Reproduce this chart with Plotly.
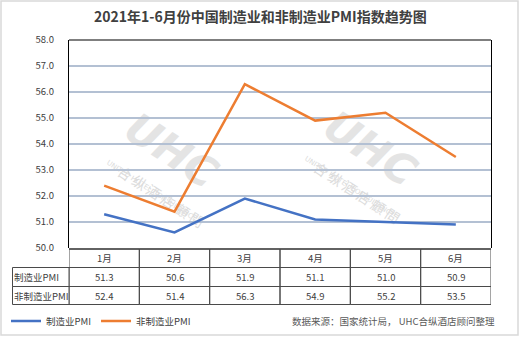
import plotly.graph_objects as go

months = ["1月", "2月", "3月", "4月", "5月", "6月"]
manu_name = "制造业PMI"
nonmanu_name = "非制造业PMI"
manu_pmi = [51.3, 50.6, 51.9, 51.1, 51.0, 50.9]
nonmanu_pmi = [52.4, 51.4, 56.3, 54.9, 55.2, 53.5]
y_ticks = [50, 51, 52, 53, 54, 55, 56, 57, 58]

title = "2021年1-6月份中国制造业和非制造业PMI指数趋势图"
source = "数据来源：国家统计局， UHC合纵酒店顾问整理"

FONT = "Noto Sans CJK SC, Microsoft YaHei, sans-serif"
TXT = "#404040"
BLUE = "#4472C4"
ORANGE = "#ED7D31"
TABLE_LINE = "#4a4a4a"

W, H = 520, 337
L, R, T, B = 69, 29, 40, 89
PW, PH = W - L - R, H - T - B


def px(xp):
    return (xp - L) / PW


def py(yp):
    return (H - B - yp) / PH


fig = go.Figure()
fig.add_trace(go.Scatter(x=months, y=manu_pmi, mode="lines", name=manu_name,
                         line=dict(color=BLUE, width=2.5)))
fig.add_trace(go.Scatter(x=months, y=nonmanu_pmi, mode="lines", name=nonmanu_name,
                         line=dict(color=ORANGE, width=2.5)))

shapes = []
annotations = []

# watermarks (under the lines)
for cx, cy, tx, ty, ex, ey in [(173, 148, 160, 198, 152, 190),
                               (372, 146, 356, 194, 350, 186)]:
    shapes.append(dict(type="rect", xref="paper", yref="paper",
                       x0=px(cx - 5), x1=px(cx + 5), y0=py(cy + 5), y1=py(cy - 5),
                       line=dict(width=0), fillcolor="rgba(0,0,0,0)", layer="between",
                       label=dict(text="<b><i>UHC</i></b>", textangle=33,
                                  font=dict(family="DejaVu Sans", size=42, color="#e4e4e4"),
                                  textposition="middle center")))
    shapes.append(dict(type="rect", xref="paper", yref="paper",
                       x0=px(tx - 5), x1=px(tx + 5), y0=py(ty + 5), y1=py(ty - 5),
                       line=dict(width=0), fillcolor="rgba(0,0,0,0)", layer="between",
                       label=dict(text="合 纵 酒 店 顧 問", textangle=33,
                                  font=dict(family=FONT, size=14, color="#dcdcdc"),
                                  textposition="middle center")))
    shapes.append(dict(type="rect", xref="paper", yref="paper",
                       x0=px(ex - 5), x1=px(ex + 5), y0=py(ey + 5), y1=py(ey - 5),
                       line=dict(width=0), fillcolor="rgba(0,0,0,0)", layer="between",
                       label=dict(text="UNITED HOTEL CONSULTANCY", textangle=33,
                                  font=dict(family="DejaVu Sans", size=7, color="#dcdcdc"),
                                  textposition="middle center")))

# plot frame top (black)
shapes.append(dict(type="line", xref="paper", yref="paper", x0=0, x1=1, y0=1, y1=1,
                   line=dict(color="black", width=1.2)))

# table: header row top line (plot bottom)
shapes.append(dict(type="line", xref="x", yref="paper", x0=-0.5, x1=len(months) - 0.5,
                   y0=py(249), y1=py(249), line=dict(color="#7a7a7a", width=2)))
# table rows as rectangles (cells)
row_edges = [py(249), py(267.5), py(286.5), py(304.5)]
for r in range(3):
    for i in range(len(months)):
        shapes.append(dict(type="rect", xref="x", yref="paper",
                           x0=i - 0.5, x1=i + 0.5, y0=row_edges[r + 1], y1=row_edges[r],
                           line=dict(color=TABLE_LINE, width=1), fillcolor="rgba(0,0,0,0)"))
for r in range(1, 3):
    shapes.append(dict(type="rect", xref="paper", yref="paper",
                       x0=px(12.5), x1=0, y0=row_edges[r + 1], y1=row_edges[r],
                       line=dict(color=TABLE_LINE, width=1), fillcolor="rgba(0,0,0,0)"))

# outer border
shapes.append(dict(type="rect", xref="paper", yref="paper",
                   x0=px(1), x1=px(518), y0=py(335), y1=py(1),
                   line=dict(color="#d9d9d9", width=1.5)))

# table text
row_centers = [py(258), py(277), py(295.5)]
for i, m in enumerate(months):
    annotations.append(dict(x=i, xref="x", y=row_centers[0], yref="paper", yanchor="middle",
                            text=m, showarrow=False,
                            font=dict(family=FONT, size=9.5, color=TXT)))
    annotations.append(dict(x=i, xref="x", y=row_centers[1], yref="paper", yanchor="middle",
                            text=f"{manu_pmi[i]:.1f}", showarrow=False,
                            font=dict(family=FONT, size=9.5, color=TXT)))
    annotations.append(dict(x=i, xref="x", y=row_centers[2], yref="paper", yanchor="middle",
                            text=f"{nonmanu_pmi[i]:.1f}", showarrow=False,
                            font=dict(family=FONT, size=9.5, color=TXT)))
for name, rc in [(manu_name, row_centers[1]), (nonmanu_name, row_centers[2])]:
    annotations.append(dict(x=px(12), xref="paper", xanchor="left", y=rc, yref="paper",
                            yanchor="middle", text=name, showarrow=False,
                            font=dict(family=FONT, size=9.5, color=TXT)))

# source
annotations.append(dict(x=px(497), xref="paper", xanchor="right", y=py(321), yref="paper",
                        yanchor="middle", text=source, showarrow=False,
                        font=dict(family=FONT, size=9.5, color="#595959")))
# title
annotations.append(dict(x=px(260), xref="paper", xanchor="center", y=py(16), yref="paper",
                        yanchor="middle", text=f"<b>{title}</b>", showarrow=False,
                        font=dict(family=FONT, size=14, color=TXT)))

fig.update_layout(
    width=W, height=H,
    margin=dict(l=L, r=R, t=T, b=B, autoexpand=False),
    paper_bgcolor="white", plot_bgcolor="white",
    font=dict(family=FONT, size=9.5, color=TXT),
    shapes=shapes, annotations=annotations,
    showlegend=True,
    legend=dict(orientation="h", x=px(6), xanchor="left", y=py(321), yanchor="middle",
                font=dict(family=FONT, size=9.5, color=TXT), bgcolor="rgba(0,0,0,0)",
                itemwidth=30, tracegroupgap=0),
    xaxis=dict(type="category", range=[-0.5, len(months) - 0.5], showticklabels=False,
               showgrid=False, zeroline=False, showline=False, ticks=""),
    yaxis=dict(range=[50, 58], tickvals=y_ticks, tickformat=".1f", showgrid=True,
               gridcolor="#b3c0d3", gridwidth=1.5, zeroline=False,
               showline=True, linecolor="black", linewidth=1.2, mirror=True,
               ticks="", ticklabelstandoff=12,
               tickfont=dict(family=FONT, size=9.5, color=TXT)),
)

fig.write_html("out.html")
